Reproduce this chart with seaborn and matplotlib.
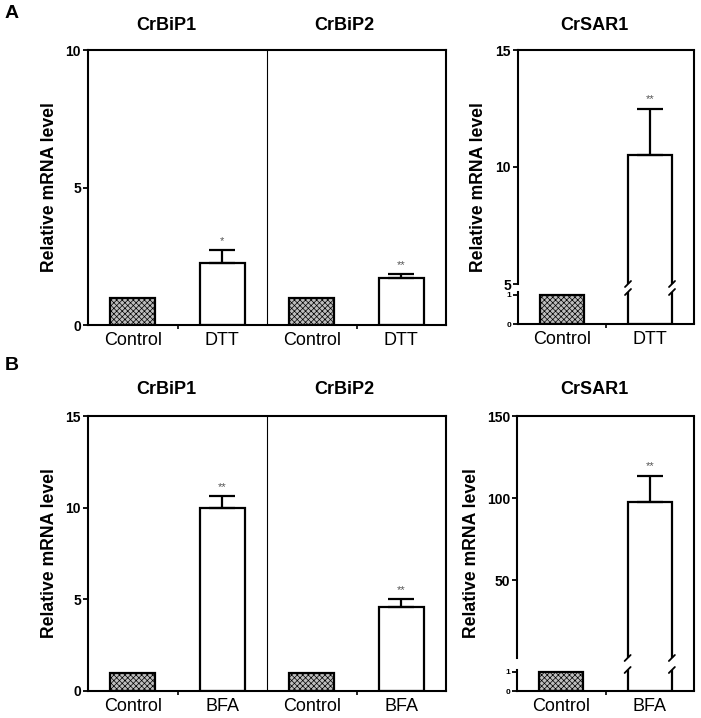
import numpy as np
import pandas as pd
import matplotlib
matplotlib.use('Agg')
import matplotlib.pyplot as plt
import seaborn as sns
from matplotlib.lines import Line2D

# values (mean, upper SEM)
treat_A = ['Control', 'DTT']
treat_B = ['Control', 'BFA']
genes = ['CrBiP1', 'CrBiP2', 'CrSAR1']

bip1_A = [1.0, 2.25]
bip1_A_err = [0.0, 0.48]
bip2_A = [1.0, 1.71]
bip2_A_err = [0.0, 0.14]
sar1_A = [1.0, 10.5]
sar1_A_err = [0.0, 2.0]

bip1_B = [1.0, 10.0]
bip1_B_err = [0.0, 0.65]
bip2_B = [1.0, 4.6]
bip2_B_err = [0.0, 0.42]
sar1_B = [1.0, 97.8]
sar1_B_err = [0.0, 15.8]

stars_A = ['*', '**', '**']
stars_B = ['**', '**', '**']

sns.set_theme(style='ticks')
plt.rcParams['font.family'] = ['Liberation Sans', 'DejaVu Sans']
plt.rcParams['hatch.linewidth'] = 0.5
for k in ['text.color', 'axes.labelcolor', 'xtick.color', 'ytick.color', 'axes.edgecolor']:
    plt.rcParams[k] = 'black'

W, H = 701, 718
fig = plt.figure(figsize=(W / 100, H / 100), dpi=100)


def frac(x0, y0, x1, y1):
    # pixel box -> figure fraction rect
    return [x0 / W, 1 - y1 / H, (x1 - x0) / W, (y1 - y0) / H]


def draw_bars(ax, labels, values):
    df = pd.DataFrame({'key': [str(i) for i in range(len(values))], 'value': values})
    sns.barplot(data=df, x='key', y='value', width=0.5, color='white',
                errorbar=None, saturation=1, ax=ax)
    for p, lab in zip(ax.patches, labels):
        p.set_edgecolor('black')
        p.set_linewidth(1.6)
        if lab == 'Control':
            p.set_facecolor('#bdbdbd')
            p.set_hatch('xxxxxx')
        else:
            p.set_facecolor('white')


def add_err(ax, values, errs, stars):
    k = 0
    for i, (v, e) in enumerate(zip(values, errs)):
        if e <= 0:
            continue
        ax.errorbar(i, v, yerr=[[0], [e]], fmt='none', ecolor='black',
                    elinewidth=1.6, capsize=9.5, capthick=1.6)
        ax.annotate(stars[k], (i, v + e), xytext=(0, 3), textcoords='offset points',
                    ha='center', va='bottom', fontsize=8, color='#555555')
        k += 1


def style_y(ax, size=10):
    ax.tick_params(axis='y', length=3.5, width=1.3, labelsize=size, pad=1.5)
    for t in ax.get_yticklabels():
        t.set_fontweight('bold')
    for s in ax.spines.values():
        s.set_linewidth(1.5)
    ax.set_ylabel('')
    ax.set_xlabel('')


def bip_panel(box, treat, v1, e1, v2, e2, stars, ymax, yticks, title_y):
    ax = fig.add_axes(frac(*box))
    labels = treat + treat
    values = v1 + v2
    errs = e1 + e2
    draw_bars(ax, labels, values)
    add_err(ax, values, errs, stars)
    ax.axvline(1.5, color='black', lw=0.8)
    ax.set_xlim(-0.5, 3.5)
    ax.set_ylim(0, ymax)
    ax.set_yticks(yticks)
    ax.set_xticks(range(4))
    ax.set_xticklabels(labels, fontsize=13)
    ax.set_xticks([0.5, 2.5], minor=True)
    ax.tick_params(axis='x', which='major', length=0, pad=5)
    ax.tick_params(axis='x', which='minor', length=3, width=1.2)
    style_y(ax)
    x0, y0, x1, y1 = box
    fig.text(166 / W, 1 - title_y / H, genes[0], ha='center', va='center',
             fontsize=13, fontweight='bold')
    fig.text(344 / W, 1 - title_y / H, genes[1], ha='center', va='center',
             fontsize=13, fontweight='bold')
    fig.text(50 / W, 1 - (y0 + y1) / 2 / H, 'Relative mRNA level', rotation=90,
             ha='center', va='center', fontsize=12.7, fontweight='bold')
    return ax


def slash(xpix, ypix):
    d = 3
    fig.add_artist(Line2D([(xpix - d) / W, (xpix + d) / W],
                          [1 - (ypix + d) / H, 1 - (ypix - d) / H],
                          transform=fig.transFigure, color='black', lw=1.3))


def sar_panel(lo_box, hi_box, treat, values, errs, stars, hi_lim, hi_ticks, title_y, ylab_x):
    ax_lo = fig.add_axes(frac(*lo_box))
    ax_hi = fig.add_axes(frac(*hi_box))
    for ax in (ax_lo, ax_hi):
        draw_bars(ax, treat, values)
        ax.set_xlim(-0.5, 1.5)
    add_err(ax_hi, values, errs, stars)

    ax_lo.set_ylim(0, 1.1)
    ax_lo.set_yticks([0, 1])
    ax_lo.set_xticks(range(2))
    ax_lo.set_xticklabels(treat, fontsize=13)
    ax_lo.set_xticks([0.5], minor=True)
    ax_lo.tick_params(axis='x', which='major', length=0, pad=5)
    ax_lo.tick_params(axis='x', which='minor', length=3, width=1.2)
    style_y(ax_lo, size=6)
    ax_lo.spines['right'].set_visible(False)
    ax_lo.spines['top'].set_visible(False)

    ax_hi.set_ylim(*hi_lim)
    ax_hi.set_yticks(hi_ticks)
    ax_hi.set_xticks([])
    style_y(ax_hi)
    ax_hi.spines['bottom'].set_visible(False)
    ax_hi.spines['right'].set_visible(False)

    # continuous right frame
    fig.add_artist(Line2D([hi_box[2] / W] * 2, [1 - lo_box[3] / H, 1 - hi_box[1] / H],
                          transform=fig.transFigure, color='black', lw=1.5))

    # break marks on the tall bar edges
    p = ax_lo.patches[1]
    for xe in (p.get_x(), p.get_x() + p.get_width()):
        xpix = ax_lo.transData.transform((xe, 0))[0]
        slash(xpix, lo_box[1])
        slash(xpix, hi_box[3])

    fig.text(594 / W, 1 - title_y / H, genes[2], ha='center', va='center',
             fontsize=13, fontweight='bold')
    fig.text(ylab_x / W, 1 - (hi_box[1] + lo_box[3]) / 2 / H, 'Relative mRNA level',
             rotation=90, ha='center', va='center', fontsize=12.7, fontweight='bold')


# row A
bip_panel((88, 50, 446, 325), treat_A, bip1_A, bip1_A_err, bip2_A, bip2_A_err,
          stars_A[:2], 10, [0, 5, 10], 25)
sar_panel((518, 292, 694, 324), (518, 50, 694, 284), treat_A, sar1_A, sar1_A_err,
          stars_A[2:], (5, 15), [5, 10, 15], 25, 478)

# row B
bip_panel((88, 416, 446, 691), treat_B, bip1_B, bip1_B_err, bip2_B, bip2_B_err,
          stars_B[:2], 15, [0, 5, 10, 15], 390)
sar_panel((517, 670, 694, 691), (517, 416, 694, 658), treat_B, sar1_B, sar1_B_err,
          stars_B[2:], (2.5, 150), [50, 100, 150], 390, 472)

fig.text(12 / W, 1 - 14 / H, 'A', ha='center', va='center', fontsize=14, fontweight='bold')
fig.text(12 / W, 1 - 366 / H, 'B', ha='center', va='center', fontsize=14, fontweight='bold')

fig.savefig('out.png', dpi=100, facecolor='white')
